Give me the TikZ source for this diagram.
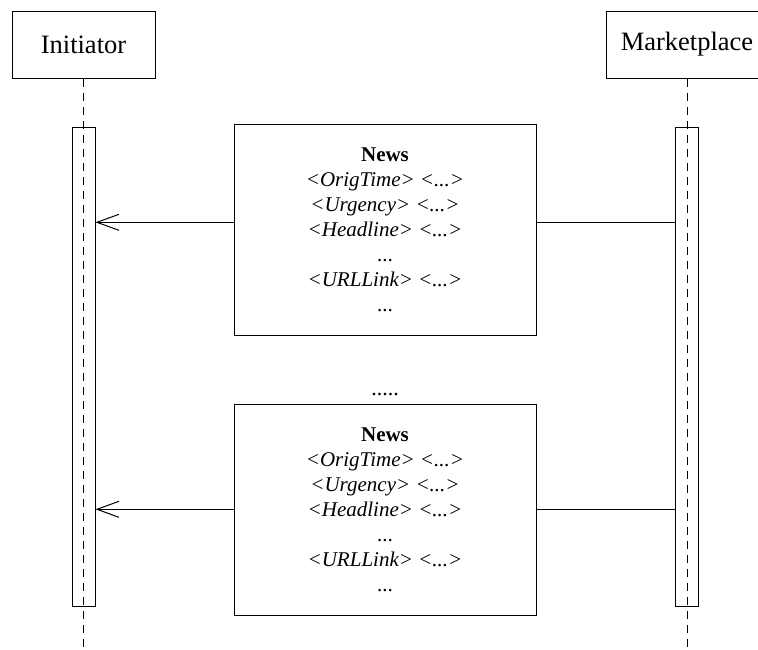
\documentclass[tikz,border=0pt]{standalone}
\usepackage{fontspec}
\setmainfont{Liberation Serif}
\usetikzlibrary{arrows.meta}

\tikzset{
  actor/.style={draw, line width=1pt, inner sep=0pt,
    font=\fontsize{26.5}{30}\selectfont},
  lifeline/.style={line width=1pt, dash pattern=on 8pt off 6pt},
  activation/.style={draw, line width=1pt, minimum width=23pt,
    minimum height=479pt, inner sep=0pt},
  msgbox/.style={draw, line width=1pt, minimum width=302pt,
    minimum height=211pt, inner sep=0pt, align=center,
    font=\fontsize{21}{25}\selectfont},
  msgline/.style={line width=1pt},
  msgarrow/.style={line width=1pt,
    -{Straight Barb[length=22pt, width=16pt, line width=1pt]}},
}

\newcommand{\newsbody}{%
  \textbf{News}\\
  \textit{<OrigTime> <...>}\\
  \textit{<Urgency> <...>}\\
  \textit{<Headline> <...>}\\
  ...\\
  \textit{<URLLink> <...>}\\
  ...}

\begin{document}
\begin{tikzpicture}[x=1pt, y=-1pt]
  \useasboundingbox (0,0) rectangle (758,649);
  \clip (0,0) rectangle (758,649);

  % participants
  \node[actor, minimum width=143pt, minimum height=67pt] (init) at (83.5,44.5) {Initiator};
  \node[actor, minimum width=162pt, minimum height=67pt] (mkt) at (687,44.5) {Marketplace};

  % lifeline ends at the bottom edge
  \coordinate (initEnd) at (83,649);
  \coordinate (mktEnd) at (687,649);
  \draw[lifeline] (init.south) -- (init.south |- initEnd);
  \draw[lifeline] (mkt.south) -- (mkt.south |- mktEnd);

  % activation bars
  \node[activation] (barL) at (83.5,366.5) {};
  \node[activation] (barR) at (687,366.5) {};

  % News messages
  \node[msgbox] (msg1) at (385,229.7) {\newsbody};
  \node[msgbox] (msg2) at (385,510) {\newsbody};
  \node[font=\fontsize{22}{25}\selectfont, anchor=base] (gap) at (385,395) {.....};

  % message levels
  \coordinate (lvl1) at (0,222.3);
  \coordinate (lvl2) at (0,509.3);

  \draw[msgline] (barR.west |- lvl1) -- (msg1.east |- lvl1);
  \draw[msgarrow] (msg1.west |- lvl1) -- (barL.east |- lvl1);
  \draw[msgline] (barR.west |- lvl2) -- (msg2.east |- lvl2);
  \draw[msgarrow] (msg2.west |- lvl2) -- (barL.east |- lvl2);
\end{tikzpicture}
\end{document}
